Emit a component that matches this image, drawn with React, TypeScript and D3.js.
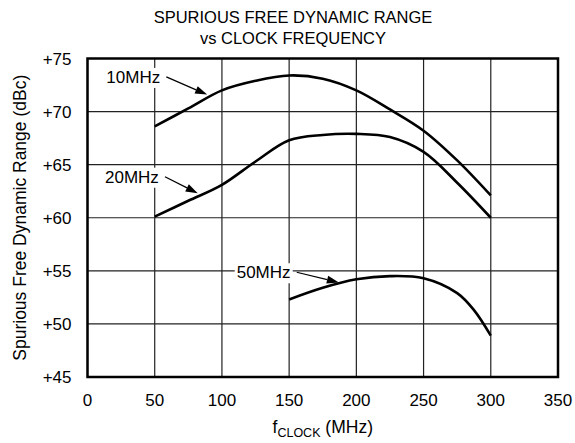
import React from "react";
import * as d3 from "d3";

const xTicks = [0, 50, 100, 150, 200, 250, 300, 350];
const yTicks = [45, 50, 55, 60, 65, 70, 75];

const freq = [50, 75, 100, 125, 150, 175, 200, 225, 250, 275, 300];
const sfdr10 = [68.6, 70.3, 72.0, 72.9, 73.4, 73.1, 72.0, 70.2, 68.2, 65.4, 62.1];
const sfdr20 = [60.1, 61.6, 63.1, 65.3, 67.3, 67.8, 67.9, 67.6, 66.2, 63.3, 60.0];
const freq50 = [150, 175, 200, 225, 250, 275, 287.5, 300];
const sfdr50 = [52.3, 53.4, 54.2, 54.5, 54.3, 52.9, 51.3, 48.9];

// label text, label anchor (data units), arrow tip (data units)
const labels = [
  { text: "10MHz", x: 14, y: 72.7, tipX: 89, tipY: 71.6 },
  { text: "20MHz", x: 13, y: 63.3, tipX: 82, tipY: 62.3 },
  { text: "50MHz", x: 111, y: 54.3, tipX: 187, tipY: 53.9 },
];

const W = 575;
const H = 443;
const left = 87.5;
const right = 558;
const top = 58.5;
const bottom = 377;
const font = "'Liberation Sans', Arial, sans-serif";

export default function App() {
  const x = d3.scaleLinear().domain([0, 350]).range([left, right]);
  const y = d3.scaleLinear().domain([45, 75]).range([bottom, top]);

  const line = d3
    .line<[number, number]>()
    .x((d) => x(d[0]))
    .y((d) => y(d[1]))
    .curve(d3.curveCatmullRom.alpha(0.5));

  const series = [
    freq.map((f, i) => [f, sfdr10[i]] as [number, number]),
    freq.map((f, i) => [f, sfdr20[i]] as [number, number]),
    freq50.map((f, i) => [f, sfdr50[i]] as [number, number]),
  ];

  return (
    <svg
      width={W}
      height={H}
      style={{ position: "absolute", left: 0, top: 0, background: "#fff" }}
      fontFamily={font}
    >
      <text x={293} y={23} textAnchor="middle" fontSize={16.5}>
        SPURIOUS FREE DYNAMIC RANGE
      </text>
      <text x={293} y={44} textAnchor="middle" fontSize={16.5}>
        vs CLOCK FREQUENCY
      </text>

      {/* grid */}
      {xTicks.map((t) => (
        <line key={"gx" + t} x1={x(t)} x2={x(t)} y1={top} y2={bottom} stroke="#222" strokeWidth={1.2} />
      ))}
      {yTicks.map((t) => (
        <line key={"gy" + t} x1={left} x2={right} y1={y(t)} y2={y(t)} stroke="#222" strokeWidth={1.2} />
      ))}

      {/* curves */}
      {series.map((s, i) => (
        <path key={i} d={line(s) || ""} fill="none" stroke="#000" strokeWidth={2.6} />
      ))}

      {/* labels with arrows */}
      {labels.map((l) => {
        const lx = x(l.x);
        const ly = y(l.y);
        const sx = lx + 60;
        const sy = ly - 6;
        const tx = x(l.tipX);
        const ty = y(l.tipY);
        const ang = Math.atan2(ty - sy, tx - sx);
        const len = 12;
        const wdt = 4;
        const bx = tx - len * Math.cos(ang);
        const by = ty - len * Math.sin(ang);
        const px = -Math.sin(ang) * wdt;
        const py = Math.cos(ang) * wdt;
        return (
          <g key={l.text}>
            <rect x={lx - 2} y={ly - 15} width={58} height={20} fill="#fff" />
            <text x={lx} y={ly} fontSize={17}>
              {l.text}
            </text>
            <line x1={sx} y1={sy} x2={bx} y2={by} stroke="#000" strokeWidth={1.2} />
            <polygon
              points={`${tx},${ty} ${bx + px},${by + py} ${bx - px},${by - py}`}
              fill="#000"
            />
          </g>
        );
      })}

      {/* frame */}
      <rect x={left} y={top} width={right - left} height={bottom - top} fill="none" stroke="#000" strokeWidth={2.5} />

      {/* ticks */}
      {yTicks.map((t) => (
        <text key={"ty" + t} x={71.5} y={y(t) + 6} textAnchor="end" fontSize={17}>
          {"+" + t}
        </text>
      ))}
      {xTicks.map((t) => (
        <text key={"tx" + t} x={x(t)} y={406} textAnchor="middle" fontSize={17}>
          {t}
        </text>
      ))}

      <text x={(left + right) / 2} y={433} textAnchor="middle" fontSize={17.5}>
        f<tspan fontSize={12.5} dy={3.5}>CLOCK</tspan>
        <tspan dy={-3.5}> (MHz)</tspan>
      </text>
      <text
        transform={`translate(26,${(top + bottom) / 2}) rotate(-90)`}
        textAnchor="middle"
        fontSize={17.5}
      >
        Spurious Free Dynamic Range (dBc)
      </text>
    </svg>
  );
}
